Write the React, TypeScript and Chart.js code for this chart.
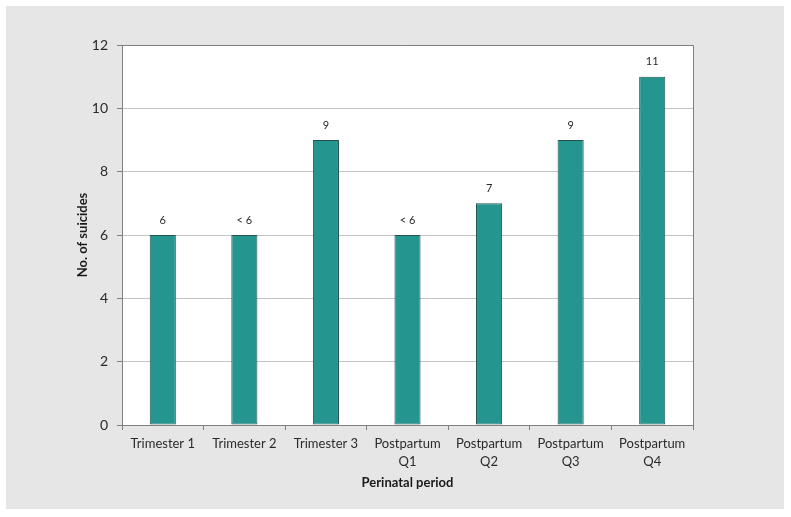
import React, { useEffect, useRef } from "react";
import { Chart, registerables } from "chart.js";

Chart.register(...registerables);

const categories: (string | string[])[] = [
  "Trimester 1",
  "Trimester 2",
  "Trimester 3",
  ["Postpartum", "Q1"],
  ["Postpartum", "Q2"],
  ["Postpartum", "Q3"],
  ["Postpartum", "Q4"],
];
const suicides = [6, 6, 9, 6, 7, 9, 11];
const barLabels = ["6", "< 6", "9", "< 6", "7", "9", "11"];
const yTicks = { min: 0, max: 12, step: 2 };

const FONT = "Lato, 'Noto Sans', sans-serif";

const backgroundPlugin = {
  id: "panelBackground",
  beforeDraw(chart: any) {
    const { ctx, chartArea, width, height } = chart;
    ctx.save();
    ctx.fillStyle = "#e6e6e6";
    ctx.fillRect(0, 0, width, height);
    ctx.fillStyle = "#ffffff";
    ctx.fillRect(
      chartArea.left,
      chartArea.top,
      chartArea.right - chartArea.left,
      chartArea.bottom - chartArea.top
    );
    ctx.restore();
  },
};

const barLabelPlugin = {
  id: "barLabels",
  afterDatasetsDraw(chart: any) {
    const ctx = chart.ctx;
    const meta = chart.getDatasetMeta(0);
    ctx.save();
    ctx.font = `11px ${FONT}`;
    ctx.fillStyle = "#2a2a2a";
    ctx.textAlign = "center";
    ctx.textBaseline = "middle";
    meta.data.forEach((el: any, i: number) => {
      ctx.fillText(barLabels[i], el.x, el.y - 15);
    });
    ctx.restore();
  },
};

const framePlugin = {
  id: "frame",
  afterDraw(chart: any) {
    const { ctx, chartArea } = chart;
    ctx.save();
    ctx.strokeStyle = "#7f7f7f";
    ctx.lineWidth = 1;
    ctx.beginPath();
    ctx.moveTo(chartArea.left, chartArea.top + 0.5);
    ctx.lineTo(chartArea.right + 0.5, chartArea.top + 0.5);
    ctx.lineTo(chartArea.right + 0.5, chartArea.bottom);
    ctx.stroke();
    ctx.restore();
  },
};

export default function App() {
  const ref = useRef<HTMLCanvasElement | null>(null);

  useEffect(() => {
    if (!ref.current) return;
    const chart = new Chart(ref.current, {
      type: "bar",
      data: {
        labels: categories,
        datasets: [
          {
            data: suicides,
            backgroundColor: "#24968f",
            borderColor: "#24524f",
            borderWidth: 1,
            borderSkipped: false,
            barPercentage: 0.32,
            categoryPercentage: 1,
          },
        ],
      },
      options: {
        animation: false,
        responsive: false,
        maintainAspectRatio: false,
        layout: { padding: { top: 39, right: 91, left: 0, bottom: 0 } },
        plugins: {
          legend: { display: false },
          tooltip: { enabled: false },
        },
        scales: {
          x: {
            afterFit: (s: any) => {
              s.height = 84;
            },
            grid: {
              display: true,
              drawOnChartArea: false,
              drawTicks: true,
              tickLength: 5,
              tickColor: "#7f7f7f",
              offset: true,
            },
            border: { color: "#7f7f7f", width: 1 },
            ticks: {
              color: "#2a2a2a",
              padding: 4,
              maxRotation: 0,
              autoSkip: false,
              font: { family: FONT, size: 13, lineHeight: 1.45 },
            },
            title: {
              display: true,
              text: "Perinatal period",
              color: "#1a1a1a",
              font: { family: FONT, size: 13, weight: "bold", lineHeight: 1.2 },
              padding: { top: 0, bottom: 18 },
            },
          },
          y: {
            min: yTicks.min,
            max: yTicks.max,
            afterFit: (s: any) => {
              s.width = 116;
            },
            grid: {
              color: "#c4c4c4",
              tickColor: "#7f7f7f",
              tickLength: 5,
              drawTicks: true,
            },
            border: { color: "#7f7f7f", width: 1 },
            ticks: {
              stepSize: yTicks.step,
              color: "#2a2a2a",
              padding: 9,
              font: { family: FONT, size: 14 },
            },
            title: {
              display: true,
              text: "No. of suicides",
              color: "#1a1a1a",
              font: { family: FONT, size: 13, weight: "bold", lineHeight: 1.2 },
              padding: { top: 69, bottom: 0 },
            },
          },
        },
      },
      plugins: [backgroundPlugin, barLabelPlugin, framePlugin],
    });
    return () => chart.destroy();
  }, []);

  return (
    <div
      style={{
        position: "fixed",
        left: 6,
        top: 6,
        width: 778,
        height: 503,
      }}
    >
      <canvas ref={ref} width={778} height={503} style={{ display: "block" }} />
    </div>
  );
}
